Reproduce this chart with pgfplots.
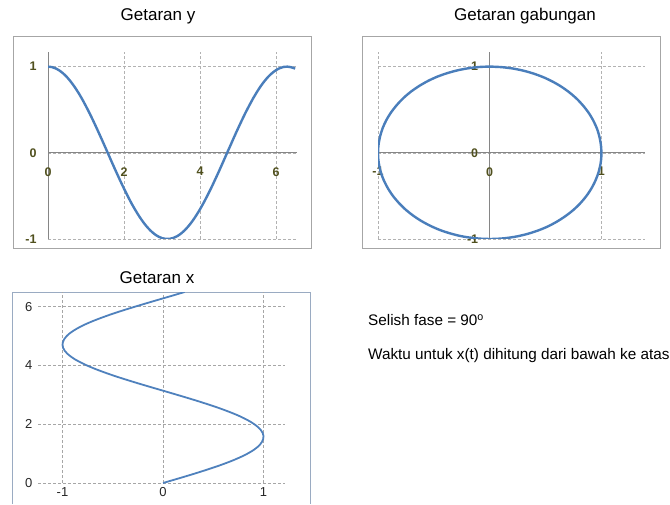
\documentclass[border=0pt]{standalone}
\usepackage{pgfplots}
\usepackage{pgfplotstable}
\pgfplotsset{compat=1.18}
\usepackage{fontspec}
\setmainfont{Liberation Sans}

\definecolor{curve}{HTML}{4A7EBB}
\definecolor{curvex}{HTML}{4F81BD}
\definecolor{olivetick}{RGB}{80,80,30}
\definecolor{framegray}{HTML}{A6A6A6}
\definecolor{frameblue}{HTML}{9AABC2}
\definecolor{axisgray}{HTML}{868686}

% t, x(t) = sin t, y(t) = cos t
\pgfplotstableread{
t   x      y
0.0  0.000  1.000
0.1  0.100  0.995
0.2  0.199  0.980
0.3  0.296  0.955
0.4  0.389  0.921
0.5  0.479  0.878
0.6  0.565  0.825
0.7  0.644  0.765
0.8  0.717  0.697
0.9  0.783  0.622
1.0  0.841  0.540
1.1  0.891  0.454
1.2  0.932  0.362
1.3  0.964  0.267
1.4  0.985  0.170
1.5  0.997  0.071
1.6  1.000 -0.029
1.7  0.992 -0.129
1.8  0.974 -0.227
1.9  0.946 -0.323
2.0  0.909 -0.416
2.1  0.863 -0.505
2.2  0.808 -0.589
2.3  0.746 -0.666
2.4  0.675 -0.737
2.5  0.598 -0.801
2.6  0.516 -0.857
2.7  0.427 -0.904
2.8  0.335 -0.942
2.9  0.239 -0.971
3.0  0.141 -0.990
3.1  0.042 -0.999
3.2 -0.058 -0.998
3.3 -0.158 -0.987
3.4 -0.256 -0.967
3.5 -0.351 -0.936
3.6 -0.443 -0.897
3.7 -0.530 -0.848
3.8 -0.612 -0.791
3.9 -0.688 -0.726
4.0 -0.757 -0.654
4.1 -0.818 -0.575
4.2 -0.872 -0.490
4.3 -0.916 -0.401
4.4 -0.952 -0.307
4.5 -0.978 -0.211
4.6 -0.994 -0.112
4.7 -1.000 -0.012
4.8 -0.996  0.087
4.9 -0.982  0.187
5.0 -0.959  0.284
5.1 -0.926  0.378
5.2 -0.883  0.469
5.3 -0.832  0.554
5.4 -0.773  0.635
5.5 -0.706  0.709
5.6 -0.631  0.776
5.7 -0.551  0.835
5.8 -0.465  0.886
5.9 -0.374  0.927
6.0 -0.279  0.960
6.1 -0.182  0.983
6.2 -0.083  0.997
6.3  0.017  1.000
6.4  0.117  0.993
6.5  0.215  0.977
}\getaran

\pgfplotsset{
  topchart/.style={
    scale only axis,
    axis lines=middle,
    axis line style={draw=axisgray, -, line width=0.8pt},
    hide obscured x ticks=false,
    hide obscured y ticks=false,
    grid=major,
    grid style={densely dashed, draw=gray!60, line width=0.6pt},
    major tick length=0pt,
    /pgf/number format/assume math mode=true,
    ticklabel style={font=\fontsize{12.5}{14}\selectfont\bfseries, text=olivetick},
    xticklabel style={yshift=-11pt},
    yticklabel style={xshift=-8pt},
  },
}

\begin{document}
\begin{tikzpicture}[x=1pt,y=1pt]
\path[use as bounding box] (0,0) rectangle (670,504);

% chart-area frames
\draw[framegray, line width=0.9pt] (13,468) rectangle (311,256);
\draw[framegray, line width=0.9pt] (362,468) rectangle (660,256);
\draw[frameblue, line width=0.9pt] (12,0) -- (12,212) -- (310,212) -- (310,0);

% titles and notes
\node[anchor=base, font=\fontsize{17}{20}\selectfont] at (158,483) {Getaran y};
\node[anchor=base, font=\fontsize{17}{20}\selectfont] at (525,483) {Getaran gabungan};
\node[anchor=base, font=\fontsize{17}{20}\selectfont] at (157,220) {Getaran x};
\node[anchor=base west, inner sep=0pt, font=\fontsize{15.3}{18}\selectfont] at (368,178)
  {Selish fase = 90\textsuperscript{o}};
\node[anchor=base west, inner sep=0pt, font=\fontsize{15.3}{18}\selectfont] at (368,144)
  {Waktu untuk x(t) dihitung dari bawah ke atas};

% y(t) against t
\begin{axis}[topchart,
  at={(48pt,265pt)}, anchor=south west,
  width=249pt, height=187pt,
  xmin=0, xmax=6.55, ymin=-1, ymax=1.17,
  xtick={0,2,4,6}, ytick={-1,0,1},
]
\addplot[curve, line width=2.4pt, smooth] table[x=t, y=y] {\getaran};
\end{axis}

% x(t) against y(t)
\begin{axis}[topchart,
  at={(378pt,265pt)}, anchor=south west,
  width=267pt, height=187pt,
  xmin=-1, xmax=1.39, ymin=-1, ymax=1.17,
  xtick={-1,0,1}, ytick={-1,0,1},
]
\addplot[curve, line width=2.4pt, smooth] table[x=x, y=y] {\getaran};
\end{axis}

% t against x(t), time running upwards
\begin{axis}[
  scale only axis,
  at={(38pt,21pt)}, anchor=south west,
  width=247pt, height=191pt,
  xmin=-1.244, xmax=1.214, ymin=0, ymax=6.5,
  axis lines*=left,
  axis line style={draw=none},
  xtick={-1,0,1}, ytick={0,2,4,6},
  grid=major,
  grid style={densely dashed, draw=gray!70, line width=0.6pt},
  major tick length=0pt,
  /pgf/number format/assume math mode=true,
  ticklabel style={font=\fontsize{13}{15}\selectfont, text=black!85},
  xticklabel style={yshift=-1pt},
  yticklabel style={xshift=-2pt},
]
\addplot[curvex, line width=1.8pt, smooth] table[x=x, y=t] {\getaran};
\end{axis}
\end{tikzpicture}
\end{document}
